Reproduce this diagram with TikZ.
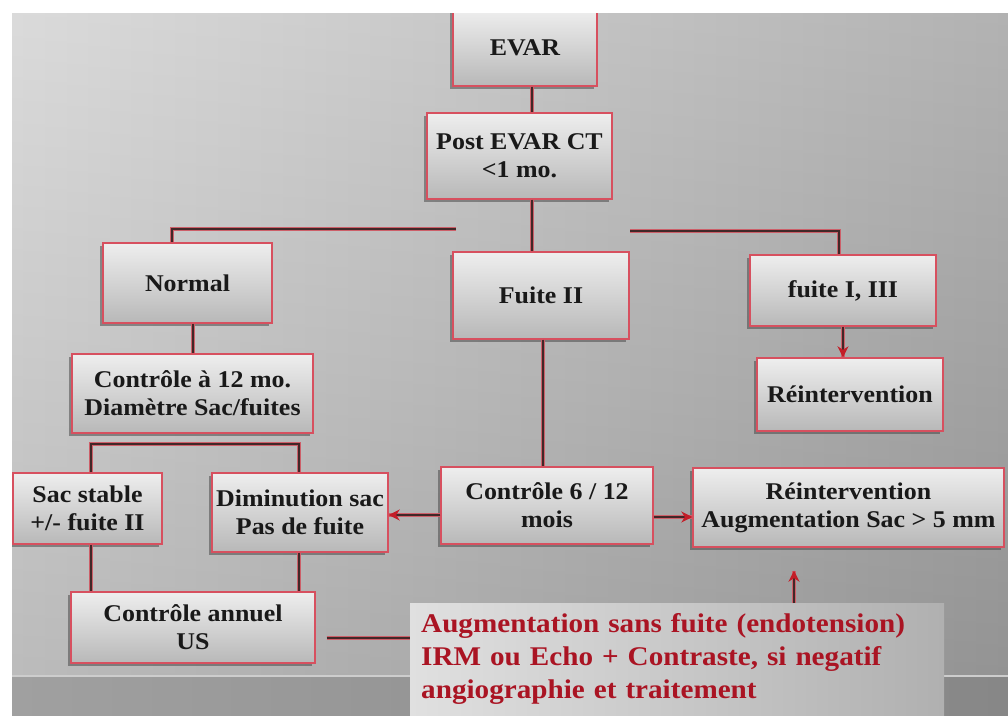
\documentclass[tikz,border=0pt]{standalone}
\usepackage{fontspec}
\setmainfont{Liberation Serif}[FakeStretch=1.08]
\usetikzlibrary{arrows.meta,shadows}
\definecolor{bgL}{RGB}{214,214,214}
\definecolor{bgR}{RGB}{168,168,168}
\definecolor{bandL}{RGB}{160,160,160}
\definecolor{bandR}{RGB}{135,135,135}
\definecolor{bandline}{RGB}{205,205,205}
\definecolor{boxborder}{RGB}{215,80,95}
\definecolor{boxtop}{RGB}{238,238,238}
\definecolor{boxbot}{RGB}{184,184,184}
\definecolor{linedark}{RGB}{65,40,40}
\definecolor{linered}{RGB}{205,95,105}
\definecolor{arrowred}{RGB}{195,30,40}
\definecolor{textdark}{RGB}{25,25,25}
\definecolor{redtext}{RGB}{170,20,35}
\definecolor{augL}{RGB}{224,224,224}
\definecolor{augR}{RGB}{176,176,176}
\tikzset{
  box/.style={draw=boxborder, line width=1.4pt, top color=boxtop, bottom color=boxbot,
    inner sep=0pt, align=center, text=textdark,
    font=\fontsize{24}{28}\selectfont\bfseries,
    drop shadow={shadow xshift=-3pt, shadow yshift=-3pt, opacity=0.5, fill=black!75}},
  augbox/.style={left color=augL, right color=augR, inner xsep=11pt, inner ysep=6pt,
    align=left, text=redtext, font=\fontsize{27}{33}\selectfont\bfseries},
  conn/.style={draw=linedark, line width=1.6pt, preaction={draw=linered, line width=3.6pt, -}},
  arr/.style={conn, -{Stealth[length=11pt,width=11pt,color=arrowred]}}
}
\begin{document}
\begin{tikzpicture}[x=1pt,y=-1pt]
\useasboundingbox (0,0) rectangle (1008,715);
\fill[white] (0,0) rectangle (1008,715);
\begin{scope}
\clip (12,13) rectangle (1008,715);
\shade[left color=bgL, right color=bgR] (12,13) rectangle (1008,676);
\shade[top color=white, bottom color=black, fill opacity=0.12] (12,13) rectangle (1008,676);
\shade[left color=bandL, right color=bandR] (12,676) rectangle (1008,715);
\draw[bandline, line width=1.5pt] (12,676) -- (1008,676);

% nodes
\node[box, minimum width=144pt, minimum height=76pt] (evar) at (525,48) {EVAR};
\node[box, minimum width=185pt, minimum height=86pt] (post) at (519.5,156) {Post EVAR CT\\<1 mo.};
\node[box, minimum width=169pt, minimum height=80pt] (normal) at (187.5,283) {Normal};
\node[box, minimum width=176pt, minimum height=87pt] (fuite2) at (541,295.5) {Fuite II};
\node[box, minimum width=186pt, minimum height=71pt] (fuite13) at (843,290.5) {fuite I, III};
\node[box, minimum width=186pt, minimum height=73pt] (reint1) at (850,394.5) {Réintervention};
\node[box, minimum width=241pt, minimum height=79pt] (c12) at (192.5,393.5) {Contrôle à 12 mo.\\Diamètre Sac/fuites};
\node[box, minimum width=149pt, minimum height=71pt] (sac) at (87.5,508.5) {Sac stable\\+/- fuite II};
\node[box, minimum width=176pt, minimum height=79pt] (dim) at (300,512.5) {Diminution sac\\Pas de fuite};
\node[box, minimum width=212pt, minimum height=77pt] (c612) at (547,505.5) {Contrôle 6 / 12\\mois};
\node[box, minimum width=311pt, minimum height=79pt] (r2) at (848.5,507.5) {Réintervention\\Augmentation Sac > 5 mm};
\node[box, minimum width=244pt, minimum height=71pt] (annuel) at (193,627.5) {Contrôle annuel\\US};
\node[augbox, anchor=north west, minimum width=534pt, minimum height=112pt, text width=512pt] (aug) at (410,603)
  {Augmentation sans fuite (endotension)\\IRM ou Echo + Contraste, si negatif\\angiographie et traitement};

% helper coordinates
\coordinate (cx532) at (532,0);
\coordinate (cx172) at (172,0);
\coordinate (cx839) at (839,0);
\coordinate (cx843) at (843,0);
\coordinate (cx193) at (193,0);
\coordinate (cx299) at (299,0);
\coordinate (cx543) at (543,0);
\coordinate (cx794) at (794,0);
\coordinate (cy515) at (0,515);
\coordinate (cy517) at (0,517);
\coordinate (cy638) at (0,638);
\coordinate (bl) at (456,229);
\coordinate (br) at (630,231);
\coordinate (bk) at (91,444);

% connectors
\draw[conn] (evar.south -| cx532) -- (post.north -| cx532);
\draw[conn] (post.south -| cx532) -- (fuite2.north -| cx532);
\draw[conn] (bl) -| (normal.north -| cx172);
\draw[conn] (br) -| (fuite13.north -| cx839);
\draw[arr] (fuite13.south -| cx843) -- (reint1.north -| cx843);
\draw[conn] (normal.south -| cx193) -- (c12.north -| cx193);
\draw[conn] (sac.north -| bk) -- (bk) -| (dim.north -| cx299);
\draw[conn] (fuite2.south -| cx543) -- (c612.north -| cx543);
\draw[arr] (c612.west |- cy515) -- (dim.east |- cy515);
\draw[arr] (c612.east |- cy517) -- (r2.west |- cy517);
\draw[conn] (sac.south -| bk) -- (annuel.north -| bk);
\draw[conn] (dim.south -| cx299) -- (annuel.north -| cx299);
\draw[conn, shorten <=11pt] (annuel.east |- cy638) -- (aug.west |- cy638);
\draw[arr, shorten >=23pt] (aug.north -| cx794) -- (r2.south -| cx794);
\end{scope}
\end{tikzpicture}
\end{document}
